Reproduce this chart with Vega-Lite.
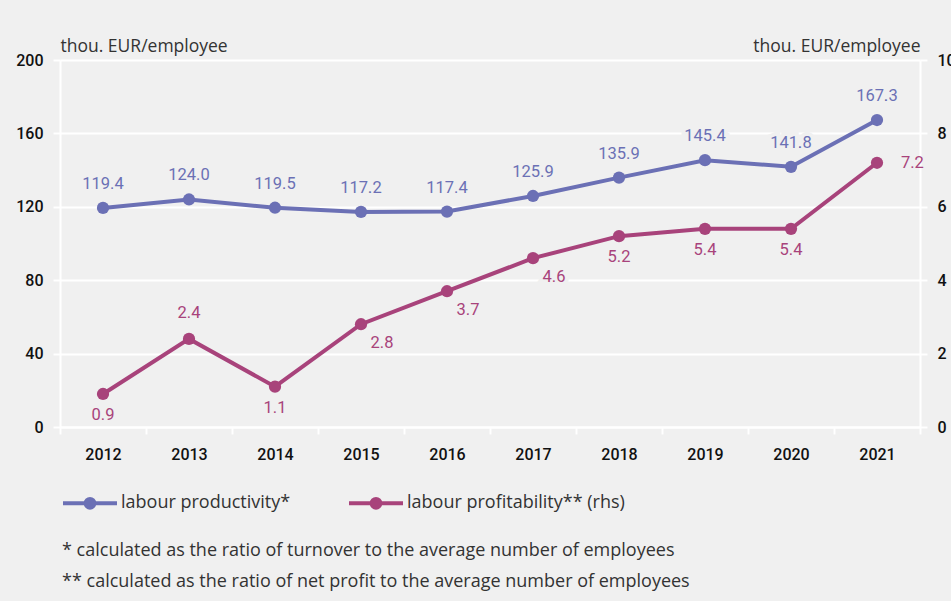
{
  "$schema": "https://vega.github.io/schema/vega-lite/v6.json",
  "width": 860,
  "height": 367,
  "autosize": {"type": "none"},
  "padding": {"left": 60, "top": 60, "right": 31, "bottom": 174},
  "background": "#f0f0f0",
  "config": {
    "view": {"stroke": null},
    "font": "Open Sans",
    "axis": {
      "domainColor": "white",
      "domainWidth": 2,
      "tickColor": "white",
      "tickWidth": 2,
      "tickSize": 7,
      "gridColor": "white",
      "gridWidth": 2,
      "labelFont": "Roboto",
      "labelFontSize": 16,
      "labelFontWeight": 500,
      "labelColor": "#111111",
      "titleFont": "Open Sans",
      "titleFontSize": 17.5,
      "titleFontWeight": "normal",
      "titleColor": "#333333"
    }
  },
  "title": {
    "text": [
      "* calculated as the ratio of turnover to the average number of employees",
      "** calculated as the ratio of net profit to the average number of employees"
    ],
    "orient": "bottom",
    "anchor": "start",
    "align": "left",
    "frame": "group",
    "offset": 26,
    "dx": 2,
    "font": "Open Sans",
    "fontSize": 18,
    "fontWeight": "normal",
    "color": "#333333",
    "lineHeight": 31
  },
  "data": {
    "values": [
      {"year": "2012", "series": "labour productivity*", "value": 119.4},
      {"year": "2013", "series": "labour productivity*", "value": 124.0},
      {"year": "2014", "series": "labour productivity*", "value": 119.5},
      {"year": "2015", "series": "labour productivity*", "value": 117.2},
      {"year": "2016", "series": "labour productivity*", "value": 117.4},
      {"year": "2017", "series": "labour productivity*", "value": 125.9},
      {"year": "2018", "series": "labour productivity*", "value": 135.9},
      {"year": "2019", "series": "labour productivity*", "value": 145.4},
      {"year": "2020", "series": "labour productivity*", "value": 141.8},
      {"year": "2021", "series": "labour productivity*", "value": 167.3},
      {"year": "2012", "series": "labour profitability** (rhs)", "value": 0.9},
      {"year": "2013", "series": "labour profitability** (rhs)", "value": 2.4},
      {"year": "2014", "series": "labour profitability** (rhs)", "value": 1.1},
      {"year": "2015", "series": "labour profitability** (rhs)", "value": 2.8},
      {"year": "2016", "series": "labour profitability** (rhs)", "value": 3.7},
      {"year": "2017", "series": "labour profitability** (rhs)", "value": 4.6},
      {"year": "2018", "series": "labour profitability** (rhs)", "value": 5.2},
      {"year": "2019", "series": "labour profitability** (rhs)", "value": 5.4},
      {"year": "2020", "series": "labour profitability** (rhs)", "value": 5.4},
      {"year": "2021", "series": "labour profitability** (rhs)", "value": 7.2}
    ]
  },
  "encoding": {
    "x": {
      "field": "year",
      "type": "ordinal",
      "scale": {"type": "band", "paddingInner": 0, "paddingOuter": 0},
      "axis": {
        "title": null,
        "grid": false,
        "tickBand": "extent",
        "labelAngle": 0,
        "labelPadding": 12,
        "labelFontSize": 16
      }
    }
  },
  "layer": [
    {
      "transform": [{"filter": "datum.series === 'labour productivity*'"}],
      "encoding": {
        "y": {
          "field": "value",
          "type": "quantitative",
          "scale": {"domain": [0, 200], "nice": false},
          "axis": {
            "orient": "left",
            "values": [0, 40, 80, 120, 160, 200],
            "grid": true,
            "labelPadding": 10,
            "title": "thou. EUR/employee",
            "titleAngle": 0,
            "titleX": 0,
            "titleY": -5,
            "titleAlign": "left",
            "titleBaseline": "bottom"
          }
        }
      },
      "layer": [
        {
          "mark": {"type": "line", "strokeWidth": 4},
          "encoding": {
            "color": {
              "field": "series",
              "type": "nominal",
              "scale": {
                "domain": ["labour productivity*", "labour profitability** (rhs)"],
                "range": ["#6b70b5", "#a8437b"]
              },
              "legend": {
                "title": null,
                "orient": "none",
                "legendX": 1,
                "legendY": 414,
                "direction": "horizontal",
                "columns": 2,
                "columnPadding": 50,
                "symbolType": "M -1 0 L 1 0 M -0.16 0 A 0.16 0.16 0 1 0 0.16 0 A 0.16 0.16 0 1 0 -0.16 0 Z",
                "symbolSize": 2916,
                "symbolStrokeWidth": 4,
                "symbolOpacity": 1,
                "labelFont": "Open Sans",
                "labelFontSize": 18,
                "labelColor": "#333333",
                "labelOffset": 2,
                "labelLimit": 400
              }
            }
          }
        },
        {
          "mark": {"type": "point", "filled": true, "size": 150, "opacity": 1},
          "encoding": {
            "color": {"field": "series", "type": "nominal"}
          }
        },
        {
          "mark": {
            "type": "text",
            "dy": -24,
            "font": "Roboto",
            "fontSize": 16.5,
            "stroke": "#f0f0f0",
            "strokeWidth": 8,
            "baseline": "middle"
          },
          "encoding": {"text": {"field": "value", "format": ".1f"}}
        },
        {
          "mark": {
            "type": "text",
            "dy": -24,
            "font": "Roboto",
            "fontSize": 16.5,
            "color": "#6b70b5",
            "baseline": "middle"
          },
          "encoding": {"text": {"field": "value", "format": ".1f"}}
        }
      ]
    },
    {
      "transform": [{"filter": "datum.series === 'labour profitability** (rhs)'"}],
      "encoding": {
        "y": {
          "field": "value",
          "type": "quantitative",
          "scale": {"domain": [0, 10], "nice": false},
          "axis": {
            "orient": "right",
            "values": [0, 2, 4, 6, 8, 10],
            "grid": false,
            "labelPadding": 10,
            "title": "thou. EUR/employee",
            "titleAngle": 0,
            "titleX": 0,
            "titleY": -5,
            "titleAlign": "right",
            "titleBaseline": "bottom"
          }
        }
      },
      "layer": [
        {
          "mark": {"type": "line", "strokeWidth": 4},
          "encoding": {"color": {"field": "series", "type": "nominal"}}
        },
        {
          "mark": {"type": "point", "filled": true, "size": 150, "opacity": 1},
          "encoding": {"color": {"field": "series", "type": "nominal"}}
        },
        {
          "transform": [{"filter": "datum.year === '2013'"}],
          "mark": {
            "type": "text",
            "dy": -26,
            "font": "Roboto",
            "fontSize": 16.5,
            "color": "#a8437b",
            "baseline": "middle"
          },
          "encoding": {"text": {"field": "value", "format": ".1f"}}
        },
        {
          "transform": [{"filter": "indexof(['2012','2014','2018','2019','2020'], datum.year) >= 0"}],
          "mark": {
            "type": "text",
            "dy": 21,
            "font": "Roboto",
            "fontSize": 16.5,
            "color": "#a8437b",
            "baseline": "middle"
          },
          "encoding": {"text": {"field": "value", "format": ".1f"}}
        },
        {
          "transform": [{"filter": "indexof(['2015','2016','2017'], datum.year) >= 0"}],
          "mark": {
            "type": "text",
            "dx": 21,
            "dy": 19,
            "font": "Roboto",
            "fontSize": 16.5,
            "stroke": "#f0f0f0",
            "strokeWidth": 8,
            "baseline": "middle"
          },
          "encoding": {"text": {"field": "value", "format": ".1f"}}
        },
        {
          "transform": [{"filter": "indexof(['2015','2016','2017'], datum.year) >= 0"}],
          "mark": {
            "type": "text",
            "dx": 21,
            "dy": 19,
            "font": "Roboto",
            "fontSize": 16.5,
            "color": "#a8437b",
            "baseline": "middle"
          },
          "encoding": {"text": {"field": "value", "format": ".1f"}}
        },
        {
          "transform": [{"filter": "datum.year === '2021'"}],
          "mark": {
            "type": "text",
            "dx": 24,
            "align": "left",
            "font": "Roboto",
            "fontSize": 16.5,
            "color": "#a8437b",
            "baseline": "middle"
          },
          "encoding": {"text": {"field": "value", "format": ".1f"}}
        }
      ]
    }
  ],
  "resolve": {"scale": {"y": "independent"}}
}
